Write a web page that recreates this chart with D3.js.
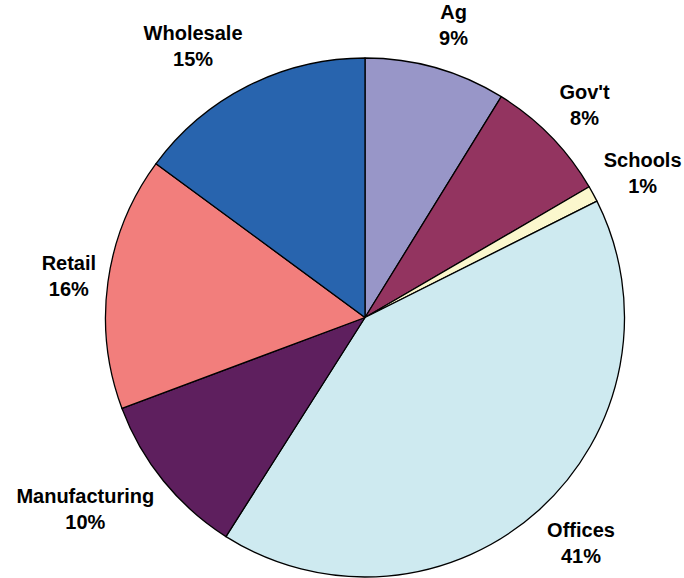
<!DOCTYPE html>
<html>
<head>
<meta charset="utf-8">
<script src="https://cdn.jsdelivr.net/npm/d3@7"></script>
<style>
  body { margin: 0; background: #fff; }
  .slice-label { font-family: "Liberation Sans", Arial, sans-serif; font-weight: bold; font-size: 20px; fill: #000; }
</style>
</head>
<body>
<svg id="chart"></svg>
<script>
// sectors, clockwise from 12 o'clock
const sectors = ['Ag', "Gov't", 'Schools', 'Offices', 'Manufacturing', 'Retail', 'Wholesale'];
const shares = [8.8, 7.8, 1.0, 41.4, 10.3, 15.8, 14.9];
const sliceColors = ['#9896c8', '#933460', '#fbf7cd', '#ceeaf0', '#5e1f5e', '#f27e7c', '#2864ae'];

const width = 684, height = 578;
const cx = 365, cy = 317.5, radius = 259.5;

const svg = d3.select('#chart')
  .attr('width', width)
  .attr('height', height);

const chart = svg.append('g')
  .attr('transform', `translate(${cx},${cy})`);

const data = sectors.map((s, i) => ({ name: s, value: shares[i], color: sliceColors[i] }));

const pie = d3.pie()
  .value(d => d.value)
  .sort(null);

const arc = d3.arc()
  .innerRadius(0)
  .outerRadius(radius);

const arcs = pie(data);

chart.selectAll('.slice')
  .data(arcs)
  .join('path')
  .attr('class', 'slice')
  .attr('d', arc)
  .attr('fill', d => d.data.color)
  .attr('stroke', '#000')
  .attr('stroke-width', 1.3)
  .attr('stroke-linejoin', 'round');

// labels sit outside the pie, pushed away from it by half their width
const labels = chart.selectAll('.slice-label')
  .data(arcs)
  .join('text')
  .attr('class', 'slice-label')
  .attr('text-anchor', 'middle');

labels.append('tspan')
  .attr('class', 'name')
  .text(d => d.data.name);

labels.append('tspan')
  .attr('class', 'pct')
  .text(d => Math.round(d.data.value) + '%');

labels.each(function(d) {
  const t = d3.select(this);
  const a = (d.startAngle + d.endAngle) / 2;
  let w = 0;
  t.selectAll('tspan').each(function() { w = Math.max(w, this.getComputedTextLength()); });
  const hw = w / 2;
  const x = (radius + 12) * Math.sin(a) + Math.sign(Math.sin(a)) * hw;
  const y = -(radius + 45) * Math.cos(a);
  t.selectAll('tspan').attr('x', x);
  t.select('.name').attr('y', y - 6);
  t.select('.pct').attr('y', y + 20);
});
</script>
</body>
</html>
